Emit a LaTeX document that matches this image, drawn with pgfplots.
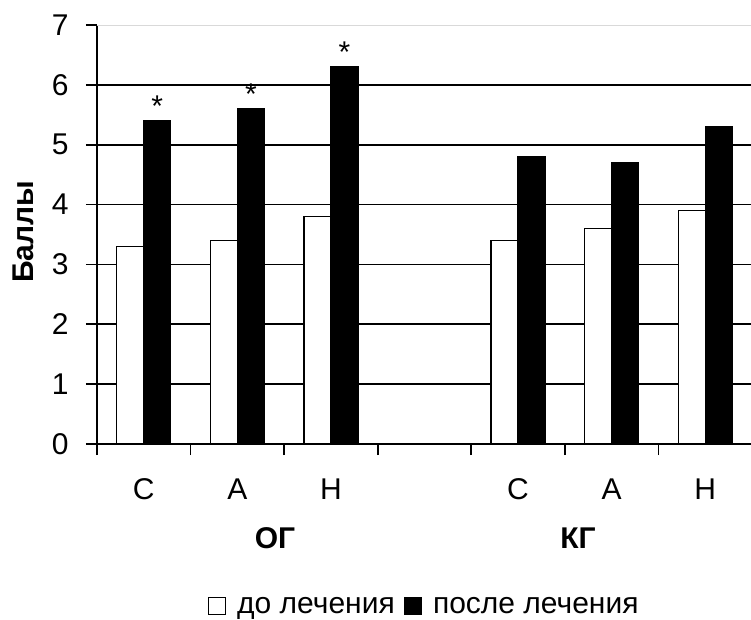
\documentclass[border=0pt]{standalone}
\usepackage{pgfplots}
\pgfplotsset{compat=1.18}
\usepackage{pgfplotstable}
\usepackage{fontspec}
\setmainfont{Liberation Sans}

% scores before and after treatment; category 3 is the empty gap between groups
\pgfplotstableread{
x  y
0  3.3
1  3.4
2  3.8
4  3.4
5  3.6
6  3.9
}\before
\pgfplotstableread{
x  y    m
0  5.4  *
1  5.6  *
2  6.3  *
4  4.8  {}
5  4.7  {}
6  5.3  {}
}\after

\newcommand\lbl{\fontsize{30}{34}\selectfont}

\begin{document}
\begin{tikzpicture}[x=1pt,y=1pt]
\clip (0,0) rectangle (751,619);
\useasboundingbox (0,0) rectangle (751,619);
\begin{axis}[
  at={(97pt,175pt)}, anchor=south west,
  scale only axis, width=655pt, height=419pt,
  clip=false,
  xmin=-0.5, xmax=6.5, ymin=0, ymax=7,
  axis x line*=bottom, axis y line*=left,
  axis line style={black, line width=1.6pt},
  ybar=0pt, bar width=27pt,
  xtick={-0.5,0.5,...,6.5}, xticklabels={},
  extra x ticks={0,1,2,4,5,6},
  extra x tick labels={С,А,Н,С,А,Н},
  extra x tick style={major tick length=0pt,
    xticklabel style={anchor=base, yshift=-55pt}},
  ytick={0,...,6},
  extra y ticks={7},
  extra y tick style={grid style={black!15, line width=1pt}},
  ymajorgrids,
  grid style={black, line width=1.8pt},
  tick align=outside, major tick length=11pt,
  tick style={black, line width=1.6pt},
  /pgf/number format/assume math mode=true,
  ticklabel style={font=\lbl},
  yticklabel style={xshift=-14pt},
  ylabel={\bfseries Баллы},
  ylabel style={font=\lbl, at={(axis description cs:-0.113,0.506)}, anchor=center},
  legend style={draw=none, font=\lbl, inner sep=0pt, outer sep=0pt,
    at={(axis description cs:0.1695,-0.3866)}, anchor=west,
    legend columns=2,
    nodes={inner sep=0pt},
    /tikz/every odd column/.append style={column sep=11pt},
    /tikz/every even column/.append style={column sep=9pt}},
  legend image code/.code={\draw[#1, line width=1.2pt] (0pt,-8.5pt) rectangle (17pt,8.5pt);},
]
\addplot[fill=white, draw=black, line width=1.3pt] table[x=x,y=y]{\before};
\addlegendentry{до лечения}
\addplot[fill=black, draw=black, line width=1.3pt,
  point meta=explicit symbolic,
  nodes near coords,
  nodes near coords style={font=\lbl, anchor=south, yshift=0.5pt}]
  table[x=x,y=y,meta=m]{\after};
\addlegendentry{после лечения}
\node[font=\lbl\bfseries, anchor=base] at (axis cs:1.402,0) [yshift=-104pt] {ОГ};
\node[font=\lbl\bfseries, anchor=base] at (axis cs:4.64,0) [yshift=-104pt] {КГ};
\end{axis}
\end{tikzpicture}
\end{document}
